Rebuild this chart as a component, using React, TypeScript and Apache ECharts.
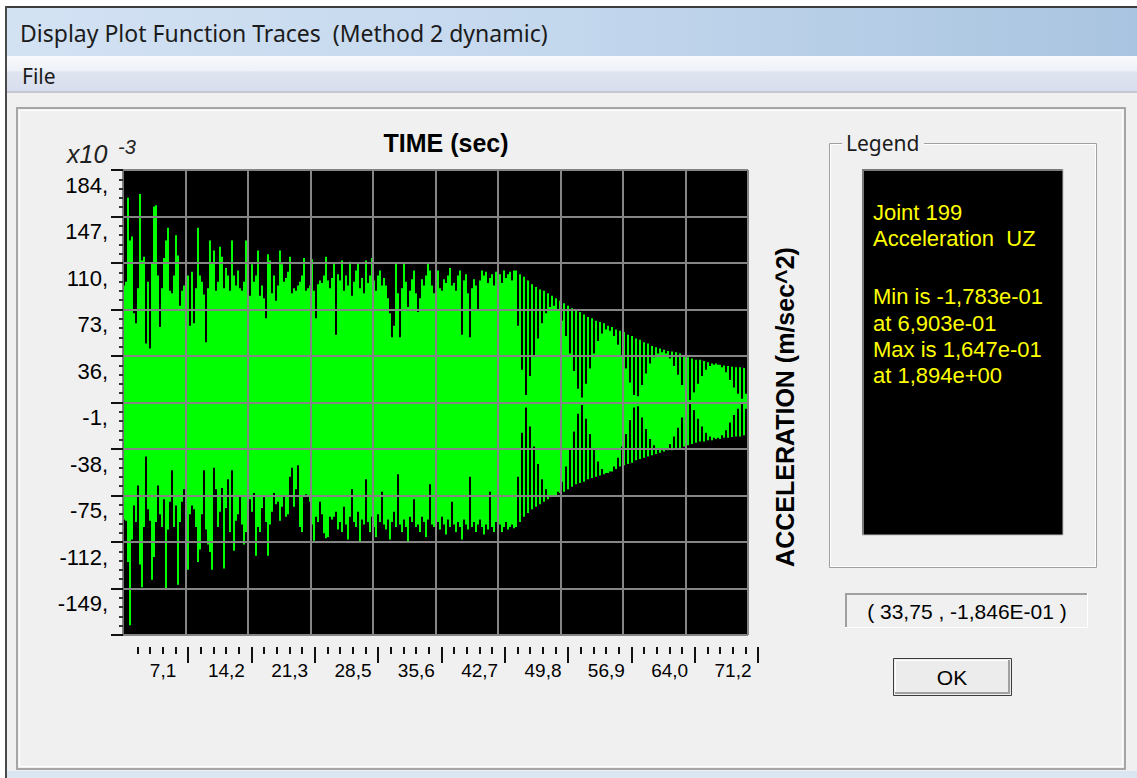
import React, { useEffect, useRef } from "react";
import * as echarts from "echarts";

// ---------- axis definitions ----------
const X_MAX = 71.155;
const X_TICK_STEP = 7.1155;
const X_TICK_LABELS = ["0", "7,1", "14,2", "21,3", "28,5", "35,6", "42,7", "49,8", "56,9", "64,0", "71,2"];
const Y_MIN = -186;
const Y_MAX = 184;
const Y_STEP = 37;
const SAMPLE_STEP = X_MAX / 312.5; // seconds per plotted column pair

// ---------- acceleration trace (x10^-3 m/sec^2), strong-motion part: per-sample peaks ----------
const upperPeaks = [
  92, 95, 162, 128, 131, 70, 62, 90, 165, 112,
  115, 46, 95, 42, 110, 155, 156, 100, 59, 90,
  114, 128, 138, 88, 86, 100, 132, 116, 76, 88,
  92, 140, 100, 60, 103, 62, 90, 138, 100, 95,
  85, 47, 90, 128, 110, 120, 88, 95, 123, 115,
  90, 106, 100, 88, 128, 100, 92, 104, 90, 88,
  95, 128, 75, 84, 109, 95, 100, 120, 84, 92,
  82, 66, 117, 112, 86, 100, 80, 92, 120, 109,
  95, 98, 103, 115, 86, 90, 88, 92, 95, 100,
  114, 88, 90, 92, 113, 88, 66, 93, 96, 94,
  100, 115, 96, 90, 98, 110, 53, 101,
  96, 112, 88, 100, 92, 111, 84, 95, 104, 110,
  90, 98, 86, 112, 94, 100, 114, 96, 88, 100,
  104, 92, 98, 92, 82, 70, 51, 60, 110, 86,
  51, 90, 110, 95, 75, 88, 97, 104, 86, 71,
  82, 97, 92, 100, 110, 104, 92, 86, 96, 104,
  90, 88, 97, 94, 100, 106, 92, 94, 88, 100,
  104, 53, 96, 101, 86, 51, 90, 97, 92, 73,
  96, 104, 100, 103, 94, 98, 101, 92, 103, 96,
  101, 94, 104, 98, 101, 103, 96, 104,
];
const lowerPeaks = [
  -94, -95, -128, -178.3, -110, -83, -96, -67, -130, -148,
  -100, -44, -86, -95, -142, -124, -96, -67, -90, -100,
  -78, -150, -102, -80, -55, -100, -83, -146, -96, -80,
  -70, -107, -134, -90, -83, -86, -100, -128, -118, -90,
  -55, -102, -114, -120, -134, -53, -70, -100, -88, -69,
  -133, -85, -62, -104, -55, -119, -95, -90, -75, -98,
  -114, -104, -90, -78, -88, -73, -123, -100, -104, -85,
  -75, -96, -123, -98, -88, -73, -82, -80, -95, -84,
  -75, -92, -90, -60, -53, -84, -70, -51, -100, -104,
  -76, -74, -76, -80, -98, -111, -92, -96, -80, -90,
  -105, -109, -108, -92, -94, -92, -88, -102,
  -96, -104, -84, -98, -110, -92, -70, -96, -100, -88,
  -112, -94, -98, -62, -96, -104, -92, -100, -108, -90,
  -96, -72, -98, -102, -94, -110, -96, -88, -100, -58,
  -98, -104, -94, -100, -112, -92, -96, -78, -100, -98,
  -104, -92, -96, -108, -94, -66, -98, -100, -104, -96,
  -102, -92, -98, -106, -94, -100, -80, -98, -104, -96,
  -100, -110, -94, -98, -102, -60, -100, -96, -104, -98,
  -94, -100, -106, -98, -102, -72, -100, -104, -96, -102,
  -98, -104, -100, -96, -102, -100, -98, -101,
];

// ---------- free-vibration (beating) part: envelope per cycle and inner beat core ----------
const beatUpper = [
  104, 101, 99, 96, 93, 91, 89, 88, 86, 84,
  82, 80, 78, 76, 74, 73, 71, 69, 67, 66,
  64, 63, 62, 60, 59, 57, 56, 55, 53, 52,
  50, 49, 47, 46, 44, 43, 42, 41, 40, 39.5,
  39, 38, 36, 35, 34, 33, 33, 32, 31, 30,
  30, 29, 28.5, 28, 27.5, 27, 27, 26.5,
];
const beatLower = [
  -100, -96, -92, -89, -86, -84, -82, -80, -78, -76,
  -75, -73, -72, -70, -68, -66, -65, -64, -62, -61,
  -60, -59, -58, -57, -56, -54, -52, -51, -50, -49,
  -47, -46, -45, -44, -43, -42, -41, -40, -39, -39,
  -38, -38, -36, -35, -34, -33, -32, -32, -31, -31,
  -30, -30, -29, -29, -28.5, -28, -28, -27,
];
const beatCore = [
  60, 25, 5, 20, 36, 50, 62, 70, 75, 76,
  72, 64, 52, 38, 24, 10, 3, 14, 26, 38,
  48, 54, 57, 56, 52, 45, 36, 26, 15, 5,
  4, 13, 22, 30, 35, 38, 39, 38, 34, 28,
  21, 13, 6, 1, 7, 14, 20, 25, 28, 29,
  29, 27, 23, 17, 11, 6, 2, 6,
];

// ---------- legend / info texts ----------
const legendLines = ["Joint 199", "Acceleration  UZ", "", "Min is -1,783e-01", "at 6,903e-01", "Max is 1,647e-01", "at 1,894e+00"];
const cursorText = "( 33,75 , -1,846E-01 )";

const AX_FONT = "'Liberation Sans', Arial, sans-serif";
const UI_FONT = "'Noto Sans', 'Open Sans', 'DejaVu Sans', sans-serif";

function buildData(): number[][] {
  const out: number[][] = [];
  upperPeaks.forEach((u, k) => out.push([(k + 0.5) * SAMPLE_STEP, lowerPeaks[k], u]));
  const n = upperPeaks.length;
  beatUpper.forEach((u, m) => {
    out.push([(n + 2 * m + 0.5) * SAMPLE_STEP, beatLower[m], u]);
    out.push([(n + 2 * m + 1.5) * SAMPLE_STEP, -beatCore[m], beatCore[m]]);
  });
  return out;
}

function txt(x: number, y: number, text: string, font: string, fill: string, align = "left", extra: any = {}) {
  return {
    type: "text",
    x,
    y,
    z: 20,
    ...extra,
    style: { text, font, fill, align, textAlign: align, verticalAlign: "middle", textVerticalAlign: "middle" },
  };
}
function rect(x: number, y: number, w: number, h: number, style: any, z = 1) {
  return { type: "rect", z, shape: { x, y, width: w, height: h }, style };
}
function line(x1: number, y1: number, x2: number, y2: number, stroke: string, lineWidth = 1, z = 3) {
  return { type: "line", z, shape: { x1, y1, x2, y2 }, style: { stroke, lineWidth } };
}

function buildGraphic(): any[] {
  const g: any[] = [];
  // window frame
  g.push(rect(0, 0, 1137, 7, { fill: "#ffffff" }));
  g.push(rect(0, 0, 5, 778, { fill: "#ffffff" }));
  g.push(rect(5, 6, 1132, 2, { fill: "#3c3c3c" }, 2));
  g.push(rect(5, 6, 2, 772, { fill: "#4a4a4a" }, 2));
  // title bar
  g.push(
    rect(7, 8, 1130, 48, {
      fill: new echarts.graphic.LinearGradient(0, 0, 1, 0, [
        { offset: 0, color: "#d3e2f3" },
        { offset: 0.5, color: "#c3d7ed" },
        { offset: 1, color: "#a9c4e0" },
      ]),
    })
  );
  g.push(txt(20, 33, "Display Plot Function Traces  (Method 2 dynamic)", `23px ${UI_FONT}`, "#1b1b1b"));
  // menu bar
  g.push(
    rect(7, 56, 1130, 36, {
      fill: new echarts.graphic.LinearGradient(0, 0, 0, 1, [
        { offset: 0, color: "#f8f9fc" },
        { offset: 0.4, color: "#eef1f8" },
        { offset: 0.45, color: "#dfe4f0" },
        { offset: 1, color: "#d8deee" },
      ]),
    })
  );
  g.push(rect(7, 91, 1130, 2, { fill: "#c4c8d3" }));
  g.push(txt(22, 76, "File", `21px ${UI_FONT}`, "#1b1b1b"));
  // bottom frame band
  g.push(rect(7, 771, 1130, 7, { fill: "#dbe6f3" }));
  // chart panel (etched)
  g.push(rect(17, 108, 1108, 661, { fill: "none", stroke: "#a6a6a6", lineWidth: 2 }));
  g.push(rect(19.5, 110.5, 1103, 656, { fill: "none", stroke: "#ffffff", lineWidth: 1 }));

  // plot titles
  g.push(txt(446, 143, "TIME (sec)", `bold 25px ${AX_FONT}`, "#000000", "center"));
  g.push(txt(67, 154, "x10", `italic 25px ${AX_FONT}`, "#222222"));
  g.push(txt(118, 147, "-3", `italic 20px ${AX_FONT}`, "#222222"));
  g.push(txt(785, 407, "ACCELERATION (m/sec^2)", `bold 25px ${AX_FONT}`, "#000000", "center", { rotation: Math.PI / 2 }));

  // legend group box
  g.push(rect(829.5, 143.5, 267, 424, { fill: "none", stroke: "#a0a0a0", lineWidth: 1 }));
  g.push(rect(830.5, 144.5, 265, 422, { fill: "none", stroke: "#ffffff", lineWidth: 1 }));
  g.push(rect(842, 132, 82, 22, { fill: "#f0f0f0" }, 4));
  g.push(txt(846, 143, "Legend", `21px ${UI_FONT}`, "#1b1b1b"));
  g.push(rect(862, 169, 201, 366, { fill: "#000000" }));
  g.push(line(862, 170, 1063, 170, "#7a7a7a", 2));
  g.push(line(863, 169, 863, 535, "#7a7a7a", 2));
  g.push(line(862, 535, 1063, 535, "#bdbdbd", 1));
  g.push(line(1063, 169, 1063, 535, "#bdbdbd", 1));
  legendLines.forEach((s, i) => {
    if (s) g.push(txt(873, 212 + i * 26.3 + (i >= 3 ? 6 : 0), s, `22px ${AX_FONT}`, "#ffff00"));
  });

  // cursor coordinate box (sunken)
  g.push(rect(845, 593, 243, 35, { fill: "#f0f0f0" }));
  g.push(line(845, 594, 1088, 594, "#a0a0a0", 2));
  g.push(line(846, 593, 846, 628, "#a0a0a0", 2));
  g.push(line(845, 627.5, 1088, 627.5, "#ffffff", 1));
  g.push(line(1087.5, 593, 1087.5, 628, "#ffffff", 1));
  g.push(txt(967, 611, cursorText, `21px ${AX_FONT}`, "#000000", "center"));

  // OK button
  g.push(rect(893.5, 658.5, 118, 37, { fill: "#ececec", stroke: "#3c3c3c", lineWidth: 1 }));
  g.push(line(895, 660.5, 1010, 660.5, "#ffffff", 1));
  g.push(line(895.5, 660, 895.5, 694, "#ffffff", 1));
  g.push(line(895, 693, 1010, 693, "#a0a0a0", 2));
  g.push(line(1009, 660, 1009, 694, "#a0a0a0", 2));
  g.push(txt(952, 677, "OK", `21px ${AX_FONT}`, "#000000", "center"));

  // hide the origin mark of the time ruler (the ruler starts after 0)
  g.push(rect(121, 646, 7, 20, { fill: "#f0f0f0" }, 50));
  return g;
}

export default function App() {
  const ref = useRef<HTMLDivElement>(null);
  useEffect(() => {
    if (!ref.current) return;
    const chart = echarts.init(ref.current, undefined, { renderer: "svg" });
    const data = buildData();
    chart.setOption({
      animation: false,
      backgroundColor: "#f0f0f0",
      grid: [
        { left: 123, top: 170, width: 625, height: 465, show: true, backgroundColor: "#000000", borderColor: "#808080", borderWidth: 1 },
        { left: 124.7, top: 170, width: 633.3, height: 477, show: false },
      ],
      xAxis: [
        {
          gridIndex: 0,
          type: "value",
          min: 0,
          max: X_MAX,
          interval: X_TICK_STEP,
          z: 5,
          axisLine: { show: false },
          axisTick: { show: false },
          axisLabel: { show: false },
          splitLine: { show: true, lineStyle: { color: "#858585", width: 2 } },
        },
        {
          gridIndex: 1,
          type: "value",
          min: 0,
          max: X_MAX,
          interval: X_TICK_STEP,
          axisLine: { show: false },
          axisTick: { show: true, length: 16, lineStyle: { color: "#111111", width: 2 } },
          minorTick: { show: true, splitNumber: 5, length: 7, lineStyle: { color: "#111111", width: 2 } },
          splitLine: { show: false },
          axisLabel: {
            show: true,
            showMinLabel: false,
            margin: 14,
            align: "center",
            padding: [0, 50, 0, 0],
            fontSize: 19,
            fontFamily: AX_FONT,
            color: "#000000",
            formatter: (v: number) => X_TICK_LABELS[Math.round(v / X_TICK_STEP)] ?? "",
          },
        },
      ],
      yAxis: [
        {
          gridIndex: 0,
          type: "value",
          min: Y_MIN,
          max: Y_MAX,
          interval: Y_STEP,
          z: 5,
          axisLine: { show: true, lineStyle: { color: "#6e6e6e", width: 1 } },
          axisTick: { show: true, length: 12, lineStyle: { color: "#111111", width: 2 } },
          minorTick: { show: true, splitNumber: 5, length: 4, lineStyle: { color: "#333333", width: 2 } },
          splitLine: { show: true, lineStyle: { color: "#858585", width: 2 } },
          axisLabel: {
            show: true,
            showMinLabel: false,
            margin: 15,
            verticalAlign: "top",
            padding: [4, 0, 0, 0],
            fontSize: 22,
            fontFamily: AX_FONT,
            color: "#000000",
            formatter: (v: number) => `${Math.round(v)},`,
          },
        },
        { gridIndex: 1, type: "value", min: 0, max: 1, show: false },
      ],
      graphic: { elements: buildGraphic() },
      series: [
        {
          type: "custom",
          xAxisIndex: 0,
          yAxisIndex: 0,
          clip: true,
          z: 2,
          encode: { x: 0, y: [1, 2] },
          data,
          renderItem: (params: any, api: any) => {
            const t = api.value(0);
            const lo = api.value(1);
            const hi = api.value(2);
            const a = api.coord([t - SAMPLE_STEP / 2, hi]);
            const b = api.coord([t + SAMPLE_STEP / 2, lo]);
            return {
              type: "rect",
              shape: { x: a[0], y: a[1], width: b[0] - a[0], height: Math.max(b[1] - a[1], 0) },
              style: { fill: "#00ff00" },
            };
          },
        },
      ],
    });
    return () => chart.dispose();
  }, []);
  return <div ref={ref} style={{ position: "absolute", left: 0, top: 0, width: 1137, height: 778 }} />;
}
